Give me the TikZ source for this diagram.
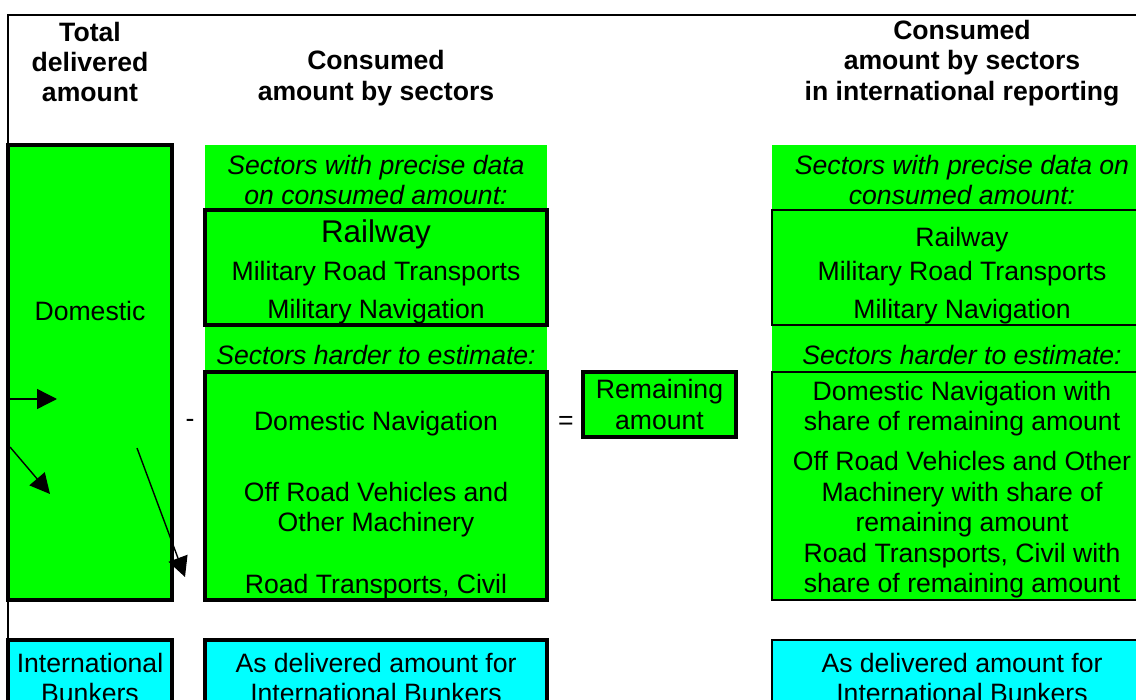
\documentclass[tikz,border=0pt]{standalone}
\usepackage{fontspec}
\setmainfont{Liberation Sans}
\usetikzlibrary{arrows.meta}
\definecolor{fuelgreen}{RGB}{0,255,0}
\definecolor{bunkercyan}{RGB}{0,255,255}
\newcommand{\txtsize}{\fontsize{13.3}{15.2}\selectfont}

\begin{document}
\begin{tikzpicture}[x=0.5pt,y=-0.5pt,
    band/.style={fill=fuelgreen,anchor=north west,inner sep=0,outer sep=0},
    block/.style={band,draw,line width=1.6pt},
    thinblock/.style={band,draw,line width=0.8pt},
    bunker/.style={block,fill=bunkercyan},
    thinbunker/.style={thinblock,fill=bunkercyan},
    head/.style={font=\txtsize\bfseries,align=center},
    txt/.style={font=\txtsize,align=center,yshift=-1.2pt},
    note/.style={font=\txtsize\itshape,align=center,yshift=-1pt},
    flow/.style={-{Triangle[length=10pt,width=10pt]},line width=0.7pt}]
  \path[use as bounding box,clip] (0,0) rectangle (1136,700);

  \node[block,minimum width=82pt,minimum height=227.5pt] (dom) at (8,145) {};
  \node[band,minimum width=171pt,minimum height=227.5pt] (midband) at (205,145) {};
  \node[block,minimum width=171pt,minimum height=57.5pt] (midrail) at (205,210) {};
  \node[block,minimum width=171pt,minimum height=114pt] (midhard) at (205,372) {};
  \node[block,minimum width=76.5pt,minimum height=32.5pt,font=\txtsize,align=center]
    (remain) at (583,372) {Remaining\\amount};
  \node[band,minimum width=190pt,minimum height=227.5pt] (repband) at (772,145) {};
  \node[thinblock,minimum width=190pt,minimum height=57.5pt] (reprail) at (772,210) {};
  \node[thinblock,minimum width=190pt,minimum height=114pt] (rephard) at (772,372) {};
  \node[bunker,minimum width=82pt,minimum height=45pt] (domib) at (8,640) {};
  \node[bunker,minimum width=171pt,minimum height=45pt] (midib) at (205,640) {};
  \node[thinbunker,minimum width=190pt,minimum height=45pt] (repib) at (772,640) {};

  \draw[line width=1pt] (1140,15) -- (8,15) -- (8,720);

  \node[head] (htotal) at (90,62) {Total\\delivered\\amount};
  \node[head] (hcons) at (376,78) {Consumed\\amount by sectors};
  \node[head] (hrep) at (962,63) {Consumed\\amount by sectors\\in international reporting};

  \node[txt] (tdom) at (90,309) {Domestic};
  \node[note] (tprec) at (376,178) {Sectors with precise data\\on consumed amount:};
  \node[txt,font=\fontsize{15.7}{18}\selectfont] (trail) at (376,232) {Railway};
  \node[txt] (tmilroad) at (376,271) {Military Road Transports};
  \node[txt] (tmilnav) at (376,309) {Military Navigation};
  \node[note] (thard) at (376,353) {Sectors harder to estimate:};
  \node[txt] (tdomnav) at (376,421) {Domestic Navigation};
  \node[txt] (toffroad) at (376,507) {Off Road Vehicles and\\Other Machinery};
  \node[txt] (troad) at (376,584) {Road Transports, Civil};
  \node[txt] (minus) at (190,421) {-};
  \node[txt] (equals) at (566,421) {=};

  \node[note] (rprec) at (962,178) {Sectors with precise data on\\consumed amount:};
  \node[txt] (rrail) at (962,237) {Railway};
  \node[txt] (rmilroad) at (962,271) {Military Road Transports};
  \node[txt] (rmilnav) at (962,309) {Military Navigation};
  \node[note] (rhard) at (962,353) {Sectors harder to estimate:};
  \node[txt] (rdomnav) at (962,406) {Domestic Navigation with\\share of remaining amount};
  \node[txt] (roffroad) at (962,492) {Off Road Vehicles and Other\\Machinery with share of\\remaining amount};
  \node[txt] (rroad) at (962,568.5) {Road Transports, Civil with\\share of remaining amount};

  \node[txt] (tib) at (90,675.5) {International\\Bunkers};
  \node[txt] (tmidib) at (376,675.5) {As delivered amount for\\International Bunkers};
  \node[txt] (trepib) at (962,675.5) {As delivered amount for\\International Bunkers};

  \coordinate (fa) at (10,399);
  \coordinate (fb) at (57,399);
  \coordinate (fc) at (10,447);
  \coordinate (fd) at (50,494);
  \coordinate (fe) at (137,448);
  \coordinate (ff) at (185,577);
  \draw[flow] (fa) -- (fb);
  \draw[flow] (fc) -- (fd);
  \draw[flow] (fe) -- (ff);
\end{tikzpicture}
\end{document}
